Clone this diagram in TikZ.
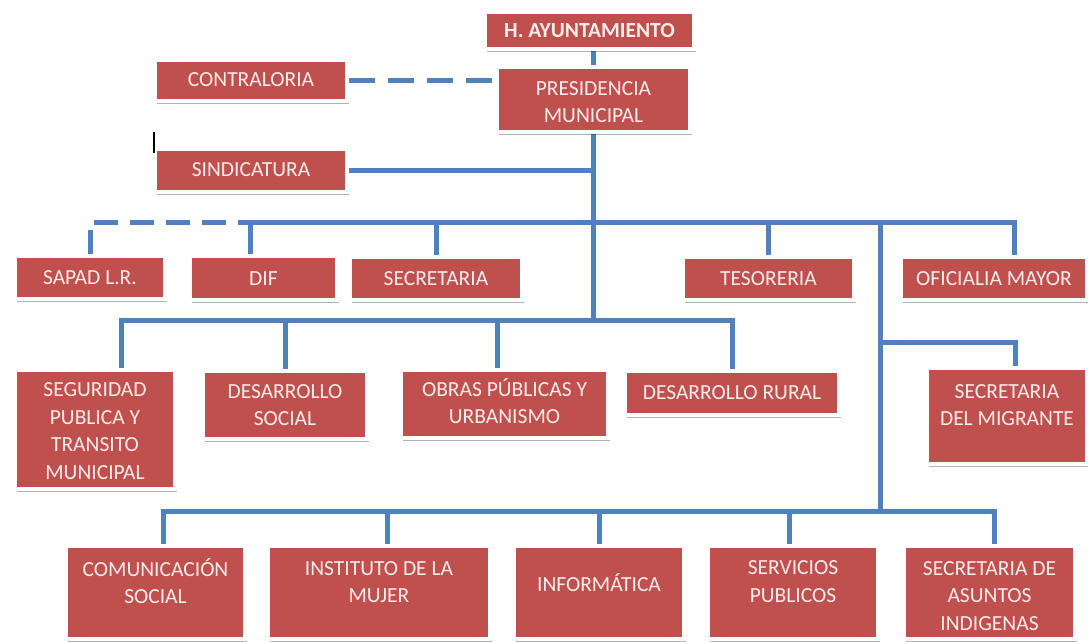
\documentclass[tikz,border=0pt]{standalone}
\usepackage{fontspec}
\setmainfont{Carlito}
\usetikzlibrary{shadows,backgrounds,calc}
\definecolor{boxred}{HTML}{C0504D}
\definecolor{linkblue}{HTML}{4F81BD}
\definecolor{boxtext}{HTML}{FBECEC}
\tikzset{
  obox/.style={rectangle, fill=boxred, draw=white, line width=4pt, inner sep=0pt,
    drop shadow={shadow xshift=1.5pt, shadow yshift=-3pt, opacity=0.3, fill=black}},
  otext/.style={text=boxtext, align=center, inner sep=0pt, font=\fontsize{21.5}{27.5}\selectfont},
  link/.style={draw=linkblue, line width=5pt},
  dlink/.style={link, dash pattern=on 26pt off 13pt},
}
% name, x1, y1, x2, y2, text y, text
\newcommand\orgbox[7]{%
  \node[obox, minimum width={#4-#2+4}, minimum height={#5-#3+4}] (#1) at ({(#2+#4)/2},{(#3+#5)/2}) {};
  \node[otext] (#1-t) at ({(#2+#4)/2},#6) {#7};}
\begin{document}
\begin{tikzpicture}[x=1pt,y=-1pt]
\useasboundingbox (0,0) rectangle (1088,641);

\orgbox{ayun}{487}{14}{692}{47}{31}{\bfseries H. AYUNTAMIENTO}
\orgbox{contra}{157}{62}{345}{99}{80}{CONTRALORIA}
\orgbox{pres}{499}{69}{688}{130}{102}{PRESIDENCIA\\MUNICIPAL}
\orgbox{sind}{157}{151}{345}{190}{170}{SINDICATURA}

\orgbox{sapad}{17}{258}{163}{297}{277.5}{SAPAD L.R.}
\orgbox{dif}{192}{258}{335}{298}{279}{DIF}
\orgbox{secr}{352}{259}{520}{298}{278.5}{SECRETARIA}
\orgbox{teso}{685}{259}{852}{298}{278.5}{TESORERIA}
\orgbox{ofic}{903}{259}{1085}{298}{278.5}{OFICIALIA MAYOR}

\orgbox{segu}{17}{372}{173}{487}{431}{SEGURIDAD\\PUBLICA Y\\TRANSITO\\MUNICIPAL}
\orgbox{dsoc}{205}{373}{365}{437}{405}{DESARROLLO\\SOCIAL}
\orgbox{obras}{403}{372}{606}{436}{401}{OBRAS PÚBLICAS Y\\URBANISMO}
\orgbox{dr}{627}{373}{837}{413}{393}{DESARROLLO RURAL}
\orgbox{migr}{929}{370}{1085}{462}{405}{SECRETARIA\\DEL MIGRANTE}

\orgbox{com}{68}{548}{243}{637}{581}{COMUNICACIÓN\\SOCIAL}
\orgbox{inst}{270}{548}{488}{637}{582}{INSTITUTO DE LA\\MUJER}
\orgbox{info}{516}{548}{682}{637}{583}{INFORMÁTICA}
\orgbox{serv}{710}{548}{876}{637}{581.5}{SERVICIOS\\PUBLICOS}
\orgbox{asun}{906}{548}{1073}{637}{596}{SECRETARIA DE\\ASUNTOS\\INDIGENAS}

\draw[line width=2pt] (154,132) -- (154,153);

\begin{scope}[on background layer]
  \fill[white] (0,0) rectangle (1088,641);
  \coordinate (y1) at (0,222);
  \coordinate (y2) at (0,320);
  \coordinate (ym) at (0,342);
  \coordinate (y3) at (0,511);
  \coordinate (hub) at (880,222);
  \coordinate (dif-in) at ([xshift=-13pt]dif.north);
  \coordinate (ofic-in) at ([xshift=20pt]ofic.north);
  \coordinate (segu-in) at ([xshift=26pt]segu.north);
  \coordinate (obras-in) at ([xshift=-7pt]obras.north);
  \coordinate (migr-in) at ([xshift=8pt]migr.north);
  \coordinate (com-in) at ([xshift=8pt]com.north);
  \coordinate (inst-in) at ([xshift=8pt]inst.north);
  \coordinate (serv-in) at ([xshift=-4pt]serv.north);
  \coordinate (asun-in) at ([xshift=5pt]asun.north);
  \coordinate (dash-end) at ([xshift=40pt]dif-in |- y1);

  \draw[link] (ayun.south -| pres.north) -- (pres.north);
  \draw[dlink] (contra.east) -- (contra.east -| pres.west);
  \draw[link] (sind.east) -- (sind.east -| pres.south);
  \draw[link] (pres.south) -- (pres.south |- y2);

  \draw[dlink, dash pattern=on 24pt off 12pt] (sapad.north) -- (sapad.north |- y1) -- (dash-end);
  \draw[link] (dif-in) -- (dif-in |- y1) -- (ofic-in |- y1) -- (ofic-in);
  \draw[link] (secr.north) -- (secr.north |- y1);
  \draw[link] (teso.north) -- (teso.north |- y1);

  \draw[link] (segu-in) -- (segu-in |- y2) -- (dr.north |- y2) -- (dr.north);
  \draw[link] (dsoc.north) -- (dsoc.north |- y2);
  \draw[link] (obras-in) -- (obras-in |- y2);

  \draw[link] (hub) -- (hub |- y3);
  \draw[link] (hub |- ym) -| (migr-in);

  \draw[link] (com-in) -- (com-in |- y3) -- (asun-in |- y3) -- (asun-in);
  \draw[link] (inst-in) -- (inst-in |- y3);
  \draw[link] (info.north) -- (info.north |- y3);
  \draw[link] (serv-in) -- (serv-in |- y3);
\end{scope}
\end{tikzpicture}
\end{document}
